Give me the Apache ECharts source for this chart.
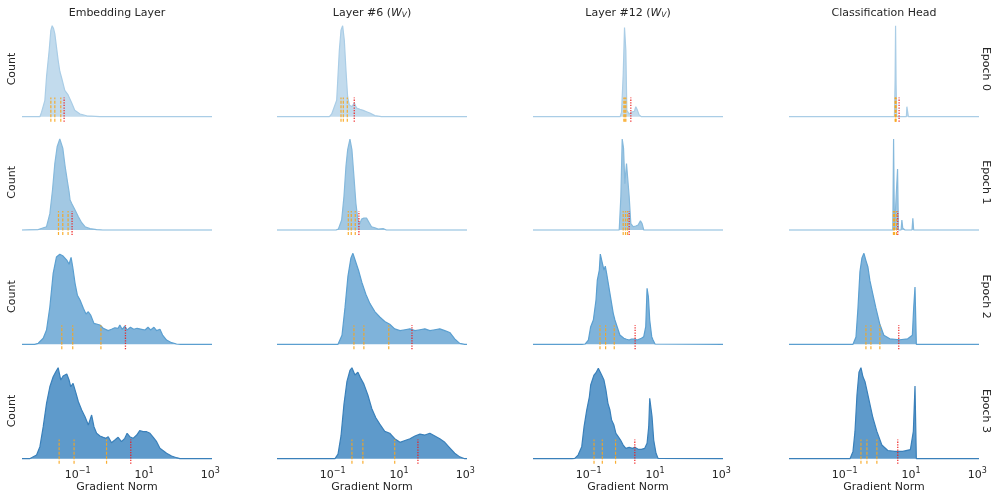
<!DOCTYPE html>
<html><head><meta charset="utf-8">
<script src="https://cdn.jsdelivr.net/npm/echarts@6/dist/echarts.min.js"></script>
<style>html,body{margin:0;padding:0;background:#fff}#c{width:993px;height:495px}</style>
</head><body><div id="c"></div>
<script>
// ---- data (x values are log10 of the gradient norm; y = relative count, peak = 100) ----
const columnTitles = ['Embedding Layer', 'Layer #6 ', 'Layer #12 ', 'Classification Head'];
const epochLabels = ['Epoch 0', 'Epoch 1', 'Epoch 2', 'Epoch 3'];
const xTicks = [0.1, 10, 1000];
const xMinExp = -2.68, xMaxExp = 3.05;

const emb0 = [[-2.68,0],[-2.14,0],[-2.09,5],[-1.99,18],[-1.94,44],[-1.86,73],[-1.81,95],[-1.77,100],[-1.73,97],[-1.69,91],[-1.59,62],[-1.54,50],[-1.48,42],[-1.39,29],[-1.29,24],[-1.18,15],[-1.09,7],[-0.93,3],[-0.73,1],[-0.33,0],[3.05,0]];
const emb0Q = [-1.81,-1.69,-1.51], emb0R = -1.41;
const l6_0 = [[-2.68,0],[-1.10,0],[-1.03,3],[-0.88,18],[-0.80,73],[-0.75,95],[-0.70,100],[-0.65,84],[-0.60,51],[-0.55,22],[-0.50,13],[-0.42,11],[-0.35,15],[-0.28,9.5],[-0.18,8],[-0.08,7],[0.02,5.5],[0.12,4],[0.27,1.2],[0.47,0],[3.05,0]];
const l6_0Q = [-0.75,-0.68,-0.56], l6_0R = -0.35;
const l12_0 = [[-2.68,0],[-0.05,0],[-0.01,5],[0.04,46],[0.08,98],[0.10,100],[0.12,73],[0.15,7],[0.22,3],[0.29,5],[0.38,6],[0.42,11],[0.46,8],[0.52,2],[0.59,0],[3.05,0]];
const l12_0Q = [0.06,0.09,0.12], l12_0R = 0.27;
const head0 = [[-2.68,0],[0.50,0],[0.52,40],[0.534,100],[0.55,35],[0.57,0],[0.86,0],[0.875,11],[0.905,10],[0.92,0],[3.05,0]];
const head0Q = [0.52,0.535,0.55], head0R = 0.64;

const emb1 = [[-2.68,0],[-2.19,0.5],[-1.94,3.6],[-1.84,18],[-1.76,44],[-1.69,73],[-1.62,91.5],[-1.54,100],[-1.45,90],[-1.38,70],[-1.30,51],[-1.26,42],[-1.23,33],[-1.18,29],[-1.08,22],[-0.98,14.6],[-0.88,8],[-0.78,3.6],[-0.63,1.5],[-0.43,0.5],[-0.24,0],[3.05,0]];
const emb1Q = [-1.58,-1.45,-1.29], emb1R = -1.17;
const l6_1 = [[-2.68,0],[-0.90,0],[-0.83,1],[-0.73,11],[-0.66,37],[-0.60,70],[-0.55,88],[-0.48,100],[-0.42,88],[-0.36,59],[-0.30,29],[-0.24,11],[-0.18,7],[-0.13,12],[-0.06,13],[0.02,13],[0.10,8],[0.17,3.6],[0.27,2.5],[0.37,1],[0.52,1.5],[0.62,0],[3.05,0]];
const l6_1Q = [-0.53,-0.44,-0.32], l6_1R = -0.21;
const l12_1 = [[-2.68,0],[-0.08,0],[-0.03,37],[0.01,100],[0.05,90],[0.09,51],[0.14,73],[0.18,73],[0.22,37],[0.27,7],[0.34,3.6],[0.42,4.4],[0.49,5.5],[0.56,10],[0.61,7],[0.66,0],[3.05,0]];
const l12_1Q = [0.04,0.11,0.17], l12_1R = 0.22;
const head1 = [[-2.68,0],[0.45,0],[0.474,100],[0.50,0],[0.56,0],[0.594,67],[0.62,0],[0.70,0],[0.724,11],[0.75,2],[0.79,1],[0.82,0],[1.03,0],[1.055,13],[1.08,0],[3.05,0]];
const head1Q = [0.47,0.50,0.56], head1R = 0.60;

const emb2 = [[-2.68,0],[-2.30,0],[-2.19,1.1],[-2.04,6.6],[-1.94,15.7],[-1.84,41],[-1.74,78],[-1.64,96],[-1.54,99],[-1.44,97],[-1.33,92.6],[-1.26,88],[-1.20,95.6],[-1.15,85],[-1.08,67],[-1.01,54],[-0.93,48.7],[-0.83,39.6],[-0.75,33.3],[-0.68,35.8],[-0.61,32.2],[-0.51,23],[-0.33,21.2],[-0.23,17.6],[-0.08,15],[0.02,16.5],[0.12,18.2],[0.22,17.6],[0.27,21.2],[0.34,16.5],[0.42,20.1],[0.49,15.7],[0.59,18.7],[0.69,16.5],[0.79,17.6],[0.93,16.5],[1.03,15.7],[1.12,18.7],[1.20,15.7],[1.30,18.7],[1.38,15],[1.48,16.5],[1.56,10.2],[1.68,4.7],[1.83,1.8],[1.98,0.3],[2.10,0],[3.05,0]];
const emb2Q = [-1.48,-1.15,-0.30], emb2R = 0.44;
const l6_2 = [[-2.68,0],[-0.84,0],[-0.72,10],[-0.63,40],[-0.54,75],[-0.45,95],[-0.39,100],[-0.30,90],[-0.21,80],[-0.12,68],[0.00,55],[0.12,45],[0.27,36],[0.42,30],[0.57,25],[0.72,22],[0.87,17],[1.03,15],[1.18,16],[1.33,17],[1.48,15],[1.63,16],[1.78,17],[1.93,15],[2.08,16],[2.23,17],[2.38,15],[2.53,13],[2.68,6],[2.83,1],[2.98,0],[3.05,0]];
const l6_2Q = [-0.36,-0.06,0.69], l6_2R = 1.39;
const l12_2 = [[-2.68,0],[-1.20,0],[-1.11,0.3],[-1.01,4.7],[-0.94,19.4],[-0.86,26.7],[-0.78,48.7],[-0.74,70.7],[-0.68,81.6],[-0.65,99.2],[-0.61,92.6],[-0.58,94.5],[-0.54,81.6],[-0.50,86],[-0.46,78],[-0.41,67],[-0.36,56],[-0.31,45],[-0.26,34],[-0.21,26.7],[-0.16,24.8],[-0.11,15.7],[-0.06,10.2],[-0.01,8.4],[0.06,6.6],[0.14,5.5],[0.22,4.7],[0.29,5.8],[0.39,5.8],[0.46,4.7],[0.52,6.2],[0.59,6.6],[0.66,8.4],[0.72,19.4],[0.76,61.5],[0.80,52.3],[0.84,26.7],[0.90,8.4],[0.94,4.7],[1.00,0.3],[1.05,0],[3.05,0]];
const l12_2Q = [-0.66,-0.49,-0.23], l12_2R = 0.40;
const head2 = [[-2.68,0],[-0.75,0],[-0.66,8],[-0.60,40],[-0.54,80],[-0.48,95],[-0.42,100],[-0.36,92],[-0.30,85],[-0.24,70],[-0.15,55],[-0.06,40],[0.06,22],[0.18,10],[0.36,6],[0.66,5],[0.90,6],[1.04,10],[1.08,40],[1.12,63],[1.15,63],[1.16,0],[3.05,0]];
const head2Q = [-0.36,-0.21,0.06], head2R = 0.63;

const emb3 = [[-2.68,0],[-2.45,0],[-2.39,0.4],[-2.24,4],[-2.14,13.2],[-2.04,35.2],[-1.94,60.9],[-1.84,79.1],[-1.74,90.1],[-1.66,95.6],[-1.59,100],[-1.51,86.5],[-1.44,90.9],[-1.33,93.1],[-1.26,86.5],[-1.21,79.1],[-1.14,82.9],[-1.05,71.9],[-0.98,62.6],[-0.88,53.5],[-0.78,46.2],[-0.68,37],[-0.58,48],[-0.51,35.2],[-0.43,27.9],[-0.33,24.9],[-0.23,23.5],[-0.15,22.4],[-0.08,24.2],[0.02,17.6],[0.12,20.5],[0.22,23.5],[0.32,18.7],[0.42,22.4],[0.49,27.9],[0.57,24.2],[0.67,22.4],[0.78,26],[0.87,30.8],[0.97,29.7],[1.08,29.7],[1.18,27.9],[1.28,23.5],[1.38,18.7],[1.48,11.4],[1.58,8.8],[1.68,5.9],[1.83,3],[1.98,1.1],[2.08,0],[3.05,0]];
const emb3Q = [-1.56,-1.11,-0.13], emb3R = 0.60;
const l6_3 = [[-2.68,0],[-0.93,0],[-0.84,5],[-0.75,25],[-0.66,60],[-0.57,85],[-0.48,97],[-0.42,100],[-0.33,92],[-0.24,95],[-0.15,88],[-0.06,82],[0.06,70],[0.18,55],[0.30,45],[0.42,38],[0.57,30],[0.72,28],[0.87,22],[1.03,18],[1.18,20],[1.33,22],[1.48,25],[1.63,27],[1.78,26],[1.93,28],[2.08,25],[2.23,22],[2.38,18],[2.53,12],[2.68,6],[2.83,2],[2.98,0],[3.05,0]];
const l6_3Q = [-0.42,-0.09,0.87], l6_3R = 1.57;
const l12_3 = [[-2.68,0],[-1.50,0],[-1.42,0.4],[-1.32,4],[-1.21,13.2],[-1.14,35.2],[-1.06,53.5],[-0.98,68.1],[-0.94,81],[-0.88,79.1],[-0.84,92],[-0.78,94.5],[-0.71,99.3],[-0.66,97.5],[-0.61,92],[-0.54,86.5],[-0.48,75.5],[-0.42,60.9],[-0.36,53.5],[-0.31,42.5],[-0.24,37],[-0.18,27.9],[-0.11,24.2],[-0.04,20.5],[0.04,15],[0.12,11.4],[0.22,12.5],[0.32,11.4],[0.39,12.5],[0.49,10.3],[0.59,10.3],[0.69,11.4],[0.76,16.9],[0.81,35.2],[0.84,66.4],[0.87,67.5],[0.91,46.2],[0.96,20.5],[1.03,5.9],[1.09,0.4],[1.15,0],[3.05,0]];
const l12_3Q = [-0.84,-0.59,-0.19], l12_3R = 0.39;
const head3 = [[-2.68,0],[-0.84,0],[-0.75,8],[-0.69,30],[-0.63,70],[-0.57,95],[-0.51,100],[-0.45,90],[-0.39,85],[-0.33,75],[-0.24,60],[-0.15,45],[-0.03,30],[0.12,15],[0.30,9],[0.51,8],[0.75,8],[0.98,10],[1.07,30],[1.12,80],[1.15,80],[1.16,0],[3.05,0]];
const head3Q = [-0.51,-0.33,-0.03], head3R = 0.60;

// ---- layout / style ----
const panels = [
  [emb0, emb0Q, emb0R], [l6_0, l6_0Q, l6_0R], [l12_0, l12_0Q, l12_0R], [head0, head0Q, head0R],
  [emb1, emb1Q, emb1R], [l6_1, l6_1Q, l6_1R], [l12_1, l12_1Q, l12_1R], [head1, head1Q, head1R],
  [emb2, emb2Q, emb2R], [l6_2, l6_2Q, l6_2R], [l12_2, l12_2Q, l12_2R], [head2, head2Q, head2R],
  [emb3, emb3Q, emb3R], [l6_3, l6_3Q, l6_3R], [l12_3, l12_3Q, l12_3R], [head3, head3Q, head3R]
];
const colLeft = [22, 277, 533, 789];
const colW = 190;
const rowBase = [116.7, 230, 344.3, 458.7];
const yMin = -5.5, yMax = 105;
const plotAbove = 95.5, plotBelow = 5;
const lineColors = ['#aacde6', '#86b9dc', '#5b9fd0', '#3a80ba'];
const fillColors = ['#c2dbed', '#a2c8e3', '#7fb3da', '#5e9acb'];
const FONT = 'DejaVu Sans';
const TXT = '#262626';

const grids = [], xAxes = [], yAxes = [], series = [];
panels.forEach((p, i) => {
  const r = Math.floor(i / 4), c = i % 4;
  grids.push({ left: colLeft[c], width: colW, top: rowBase[r] - plotAbove, height: plotAbove + plotBelow });
  xAxes.push({
    gridIndex: i, type: 'log', logBase: 10,
    min: Math.pow(10, xMinExp), max: Math.pow(10, xMaxExp),
    axisLine: { show: false }, axisTick: { show: false }, splitLine: { show: false },
    axisLabel: r === 3 ? {
      show: true, customValues: xTicks, margin: 3, showMinLabel: true, showMaxLabel: true,
      formatter: v => { const n = Math.round(Math.log10(v)); return '{b|10}{s|' + (n < 0 ? '\u2212' : '') + Math.abs(n) + '}'; },
      rich: {
        b: { fontFamily: FONT, fontSize: 11, color: TXT, lineHeight: 14, verticalAlign: 'bottom' },
        s: { fontFamily: FONT, fontSize: 8, color: TXT, lineHeight: 14, verticalAlign: 'top' }
      }
    } : { show: false }
  });
  yAxes.push({ gridIndex: i, type: 'value', min: yMin, max: yMax, show: false });
  series.push({
    type: 'line', xAxisIndex: i, yAxisIndex: i, silent: true, animation: false,
    symbol: 'none', showSymbol: false, z: 2,
    data: p[0].map(d => [Math.pow(10, d[0]), d[1]]),
    lineStyle: { color: lineColors[r], width: 1.2 },
    areaStyle: { color: fillColors[r], opacity: 1, origin: 0 }
  });
  p[1].forEach(q => series.push({
    type: 'line', xAxisIndex: i, yAxisIndex: i, silent: true, animation: false, symbol: 'none', z: 3,
    data: [[Math.pow(10, q), yMin], [Math.pow(10, q), 21]],
    lineStyle: { color: '#f8a51b', width: 1.2, type: [3, 1.5], opacity: 0.9 }
  }));
  series.push({
    type: 'line', xAxisIndex: i, yAxisIndex: i, silent: true, animation: false, symbol: 'none', z: 4,
    data: [[Math.pow(10, p[2]), yMin], [Math.pow(10, p[2]), 21]],
    lineStyle: { color: '#ee1c1c', width: 1.3, type: [1.3, 1.3], opacity: 0.9 }
  });
});

const graphics = [];
columnTitles.forEach((t, c) => {
  const withW = c === 1 || c === 2;
  graphics.push({
    type: 'text', x: colLeft[c] + colW / 2, y: 12,
    style: {
      text: withW ? '{n|' + t + '(}{i|W}{sub|V}{n|)}' : '{n|' + t + '}',
      align: 'center', verticalAlign: 'middle',
      rich: {
        n: { fontFamily: FONT, fontSize: 11, fill: TXT, lineHeight: 14, verticalAlign: 'bottom' },
        i: { fontFamily: FONT, fontStyle: 'italic', fontSize: 11, fill: TXT, lineHeight: 14, verticalAlign: 'bottom' },
        sub: { fontFamily: FONT, fontStyle: 'italic', fontSize: 7.5, fill: TXT, lineHeight: 11, verticalAlign: 'bottom' }
      }
    }
  });
  graphics.push({
    type: 'text', x: colLeft[c] + colW / 2, y: 487,
    style: { text: 'Gradient Norm', fontFamily: FONT, fontSize: 11, fill: TXT, align: 'center', verticalAlign: 'middle' }
  });
});
epochLabels.forEach((t, r) => {
  const cy = rowBase[r] - 47.7;
  graphics.push({ type: 'text', x: 12, y: cy, rotation: Math.PI / 2,
    style: { text: 'Count', fontFamily: FONT, fontSize: 11, fill: TXT, align: 'center', verticalAlign: 'middle' } });
  graphics.push({ type: 'text', x: 986, y: cy, rotation: -Math.PI / 2,
    style: { text: t, fontFamily: FONT, fontSize: 11, fill: TXT, align: 'center', verticalAlign: 'middle' } });
});

const chart = echarts.init(document.getElementById('c'), null, { renderer: 'canvas' });
chart.setOption({
  backgroundColor: '#ffffff',
  animation: false,
  grid: grids, xAxis: xAxes, yAxis: yAxes, series: series, graphic: graphics
});
</script>
</body></html>
